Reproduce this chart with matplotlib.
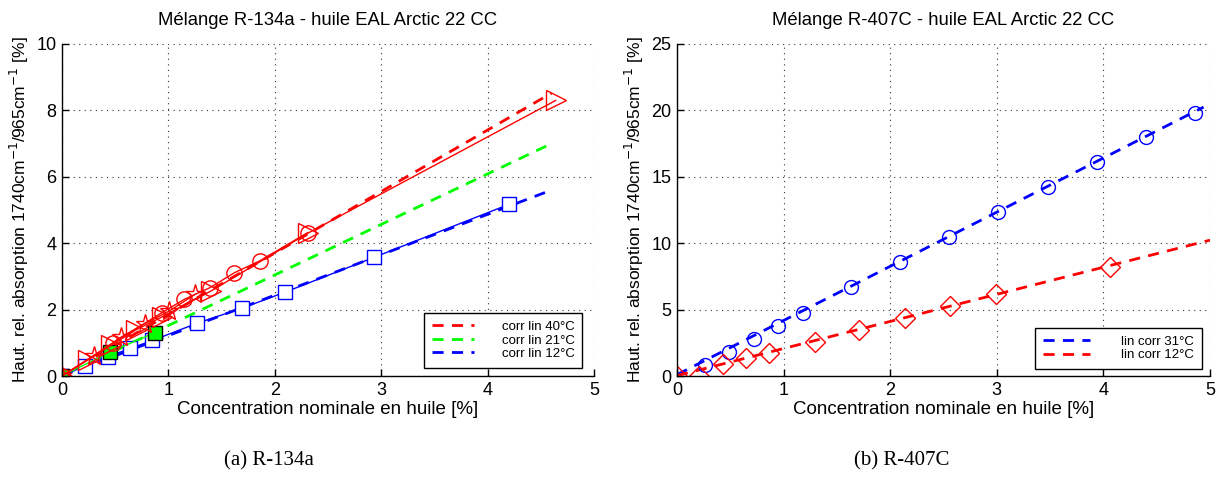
import matplotlib
matplotlib.use("Agg")
import matplotlib.pyplot as plt
import numpy as np

plt.rcParams['font.family'] = ['Liberation Sans', 'DejaVu Sans']

# ---------------- Left panel data (R-134a) ----------------
tri_x = [0, 0.24, 0.46, 0.70, 0.94, 1.40, 2.31, 4.64]
tri_y = [0, 0.48, 0.92, 1.40, 1.78, 2.56, 4.30, 8.30]
circ_x = [0, 0.48, 0.94, 1.15, 1.39, 1.62, 1.86, 2.31]
circ_y = [0, 1.00, 1.91, 2.31, 2.66, 3.11, 3.47, 4.32]
star_x = [0, 0.30, 0.55, 0.78, 1.01, 1.25]
star_y = [0, 0.60, 1.16, 1.58, 1.96, 2.46]
green_x = [0, 0.45, 0.87]
green_y = [0, 0.72, 1.30]
sq_x = [0, 0.22, 0.43, 0.64, 0.85, 1.27, 1.69, 2.10, 2.93, 4.20]
sq_y = [0, 0.31, 0.58, 0.83, 1.07, 1.59, 2.04, 2.53, 3.57, 5.17]
fit_x_left = [0, 4.6]
fit40_y = [0, 8.52]
fit21_y = [0, 7.00]
fit12_y = [0, 5.60]

# ---------------- Right panel data (R-407C) ----------------
c31_x = [0.26, 0.49, 0.72, 0.95, 1.18, 1.63, 2.09, 2.55, 3.01, 3.48, 3.94, 4.40, 4.86]
c31_y = [0.83, 1.77, 2.80, 3.76, 4.72, 6.72, 8.59, 10.43, 12.37, 14.22, 16.08, 18.03, 19.81]
d12_x = [0, 0.21, 0.43, 0.65, 0.86, 1.29, 1.71, 2.14, 2.56, 2.99, 4.06]
d12_y = [0, 0.0, 0.91, 1.36, 1.74, 2.55, 3.46, 4.37, 5.30, 6.14, 8.21]
fit31_x = [0, 4.94]
fit31_y = [0.10, 20.25]
fit12r_x = [0, 5.0]
fit12r_y = [0.03, 10.23]

titles = ["Mélange R-134a - huile EAL Arctic 22 CC",
          "Mélange R-407C - huile EAL Arctic 22 CC"]
captions = ["(a) R-134a", "(b) R-407C"]
caption_x = [269, 902]
xlabel = "Concentration nominale en huile [%]"
ylabel = "Haut. rel. absorption 1740cm$^{-1}$/965cm$^{-1}$ [%]"

fig = plt.figure(figsize=(12.2, 4.94), dpi=100)
W, H = 1220, 494
ax1 = fig.add_axes([62 / W, (H - 376) / H, 532 / W, 332 / H])
ax2 = fig.add_axes([677 / W, (H - 376) / H, 533 / W, 332 / H])

RED, GREEN, BLUE = '#ff0000', '#00ff00', '#0000ff'

# Left panel
ax1.plot(fit_x_left, fit40_y, '--', color=RED, lw=2, dashes=(4, 3), label='corr lin 40°C')
ax1.plot(fit_x_left, fit21_y, '--', color=GREEN, lw=2, dashes=(4, 3), label='corr lin 21°C')
ax1.plot(fit_x_left, fit12_y, '--', color=BLUE, lw=2, dashes=(4, 3), label='corr lin 12°C')
ax1.plot(sq_x, sq_y, '-', color=BLUE, lw=1, marker='s', ms=10, mfc='white', mec=BLUE, mew=1)
ax1.plot(green_x, green_y, '-', color=GREEN, lw=1, marker='s', ms=10, mfc=GREEN, mec='black', mew=1)
ax1.plot(star_x, star_y, '-', color=RED, lw=1, marker='*', ms=14, mfc='none', mec=RED, mew=1)
ax1.plot(circ_x, circ_y, '-', color=RED, lw=1, marker='o', ms=11, mfc='none', mec=RED, mew=1)
ax1.plot(tri_x, tri_y, '-', color=RED, lw=1, marker='>', ms=14, mfc='none', mec=RED, mew=1)
ax1.set_xlim(0, 5)
ax1.set_ylim(0, 10)
ax1.set_xticks([0, 1, 2, 3, 4, 5])
ax1.set_yticks([0, 2, 4, 6, 8, 10])

# Right panel
ax2.plot(fit31_x, fit31_y, '--', color=BLUE, lw=2, dashes=(4, 3), label='lin corr 31°C')
ax2.plot(fit12r_x, fit12r_y, '--', color=RED, lw=2, dashes=(4, 3), label='lin corr 12°C')
ax2.plot(c31_x, c31_y, 'none', marker='o', ms=10, mfc='none', mec=BLUE, mew=1)
ax2.plot(d12_x, d12_y, 'none', marker='D', ms=10, mfc='none', mec=RED, mew=1)
ax2.set_xlim(0, 5)
ax2.set_ylim(0, 25)
ax2.set_xticks([0, 1, 2, 3, 4, 5])
ax2.set_yticks([0, 5, 10, 15, 20, 25])

for ax, t in zip([ax1, ax2], titles):
    for side in ['top', 'right']:
        ax.spines[side].set_visible(False)
    ax.grid(True, linestyle=(0, (1, 4)), color='#333333', lw=0.8)
    ax.set_axisbelow(True)
    ax.tick_params(direction='in', labelsize=13, length=5, width=1, pad=4)
    ax.set_title(t, fontsize=13.3, pad=14)
    ax.set_xlabel(xlabel, fontsize=13.5, labelpad=2)
    ax.set_ylabel(ylabel, fontsize=12.5, labelpad=4)
    for sp in ['left', 'bottom']:
        ax.spines[sp].set_linewidth(1)

for cap, cx in zip(captions, caption_x):
    fig.text(cx / W, (H - 461) / H, cap, ha='center', va='center',
             fontsize=15, family=['Liberation Serif', 'DejaVu Serif'])

leg1 = ax1.legend(loc='lower right', bbox_to_anchor=(0.978, 0.024), fontsize=9.5,
                  frameon=True, fancybox=False, edgecolor='black', framealpha=1,
                  handlelength=3.2, handletextpad=2.1, borderpad=0.6, labelspacing=0.1,
                  borderaxespad=0)
leg1.get_frame().set_linewidth(1)
leg2 = ax2.legend(loc='lower right', bbox_to_anchor=(0.985, 0.02), fontsize=9.5,
                  frameon=True, fancybox=False, edgecolor='black', framealpha=1,
                  handlelength=3.5, handletextpad=2.4, borderpad=0.6, labelspacing=0.1,
                  borderaxespad=0)
leg2.get_frame().set_linewidth(1)

fig.savefig('out.png', dpi=100)
